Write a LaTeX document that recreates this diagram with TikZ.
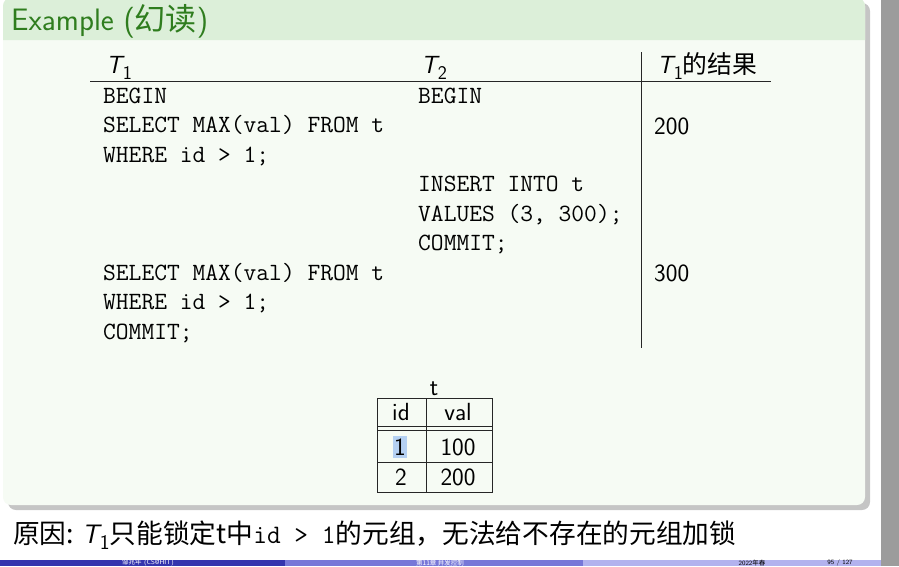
\documentclass[tikz,border=0pt]{standalone}
\usepackage{fontspec}
\newfontfamily\cjk{Noto Sans CJK SC}
\usetikzlibrary{shadows}
\definecolor{titlebg}{HTML}{DCEFD9}
\definecolor{bodybg}{HTML}{F6FBF4}
\definecolor{exgreen}{HTML}{2F7D1E}
\definecolor{wingray}{HTML}{9C9C9C}
\definecolor{footA}{HTML}{3434AE}
\definecolor{footB}{HTML}{7777D8}
\definecolor{footC}{HTML}{B2B2EE}
\definecolor{selblue}{HTML}{B4D0F2}
\newcommand\Tsub[1]{{\sffamily\itshape T}\kern0.03em\raisebox{-0.25em}{\scalebox{0.78}{\sffamily #1}}}
\begin{document}
\begin{tikzpicture}[x=1pt,y=-1pt,
  code/.style={font=\fontsize{24.8}{28}\selectfont\ttfamily, anchor=base west, inner sep=0pt},
  txt/.style={font=\fontsize{24.8}{28}\selectfont\sffamily, anchor=base west, inner sep=0pt},
  cell/.style={font=\fontsize{24.8}{28}\selectfont\sffamily, anchor=center, inner sep=0pt},
  big/.style={font=\fontsize{26.7}{32}\selectfont\sffamily, anchor=base west, inner sep=0pt},
  ttl/.style={font=\fontsize{31}{35}\selectfont\sffamily, anchor=base west, inner sep=0pt},
  foot/.style={font=\fontsize{6.5}{7}\selectfont\sffamily, anchor=center, inner sep=0pt},
  rulel/.style={line width=0.9pt, draw=black!85},
  gridl/.style={line width=0.8pt, draw=black!85}]
\useasboundingbox (0,0) rectangle (899,566);
\clip (0,0) rectangle (899,566);
\fill[white] (0,0) rectangle (899,566);
\fill[wingray] (881,0) rectangle (899,566);
% block
\fill[bodybg, rounded corners=8pt, drop shadow={shadow xshift=5pt, shadow yshift=-5pt, opacity=0.45}] (3,-2) rectangle (865,505);
\fill[titlebg] (3,40) [rounded corners=8pt] -- (3,-2) -- (865,-2) [sharp corners] -- (865,40) -- cycle;
\node[ttl, text=exgreen] (title) at (11,30) {Example ({\cjk 幻读})};
% main table
\draw[rulel] (90,81) -- (771,81);
\draw[rulel] (641,52) -- (641,348);
\node[txt] (h1) at (106,73) {\Tsub{1}};
\node[txt] (h2) at (421,73) {\Tsub{2}};
\node[txt] (h3) at (657,73) {\Tsub{1}{\cjk 的结果}};
\node[code] (a1) at (103,103) {BEGIN};
\node[code] (a2) at (103,132.5) {SELECT MAX(val) FROM t};
\node[code] (a3) at (103,162) {WHERE id > 1;};
\node[code] (a7) at (103,280) {SELECT MAX(val) FROM t};
\node[code] (a8) at (103,309.5) {WHERE id > 1;};
\node[code] (a9) at (103,339) {COMMIT;};
\node[code] (b1) at (418,103) {BEGIN};
\node[code] (b4) at (418,191.5) {INSERT INTO t};
\node[code] (b5) at (418,221) {VALUES (3, 300);};
\node[code] (b6) at (418,250.5) {COMMIT;};
\node[txt] (c2) at (654,134) {200};
\node[txt] (c7) at (654,281.5) {300};
% small table t
\node[txt, anchor=base] (cap) at (434,395) {t};
\draw[gridl] (377,398) rectangle (492,492);
\draw[gridl] (377,426) -- (492,426);
\draw[gridl] (377,430) -- (492,430);
\draw[gridl] (377,462) -- (492,462);
\draw[gridl] (426,398) -- (426,492);
\fill[selblue] (393,436) rectangle (407,458);
\node[cell] (tid) at (401,412) {id};
\node[cell] (tval) at (458,412) {val};
\node[cell] (t11) at (400,447) {1};
\node[cell] (t12) at (458,447) {100};
\node[cell] (t21) at (401,477) {2};
\node[cell] (t22) at (458,477) {200};
% bottom text
\node[big] (reason) at (13,543) {{\cjk 原因: }\Tsub{1}{\cjk 只能锁定t中}{\ttfamily id > 1}{\cjk 的元组，无法给不存在的元组加锁}};
% footer
\fill[footA] (0,560) rectangle (285,566);
\fill[footB] (285,560) rectangle (583,566);
\fill[footC] (583,560) rectangle (881,566);
\node[foot, text=white] (fl) at (148,563) {{\cjk 邹兆年} (CS@HIT)};
\node[foot, text=white] (fm) at (440,563) {{\cjk 第11章 并发控制}};
\node[foot, text=black] (fr1) at (752,563) {2022{\cjk 年春}};
\node[foot, text=black] (fr2) at (840,563) {95 / 127};
\end{tikzpicture}
\end{document}
